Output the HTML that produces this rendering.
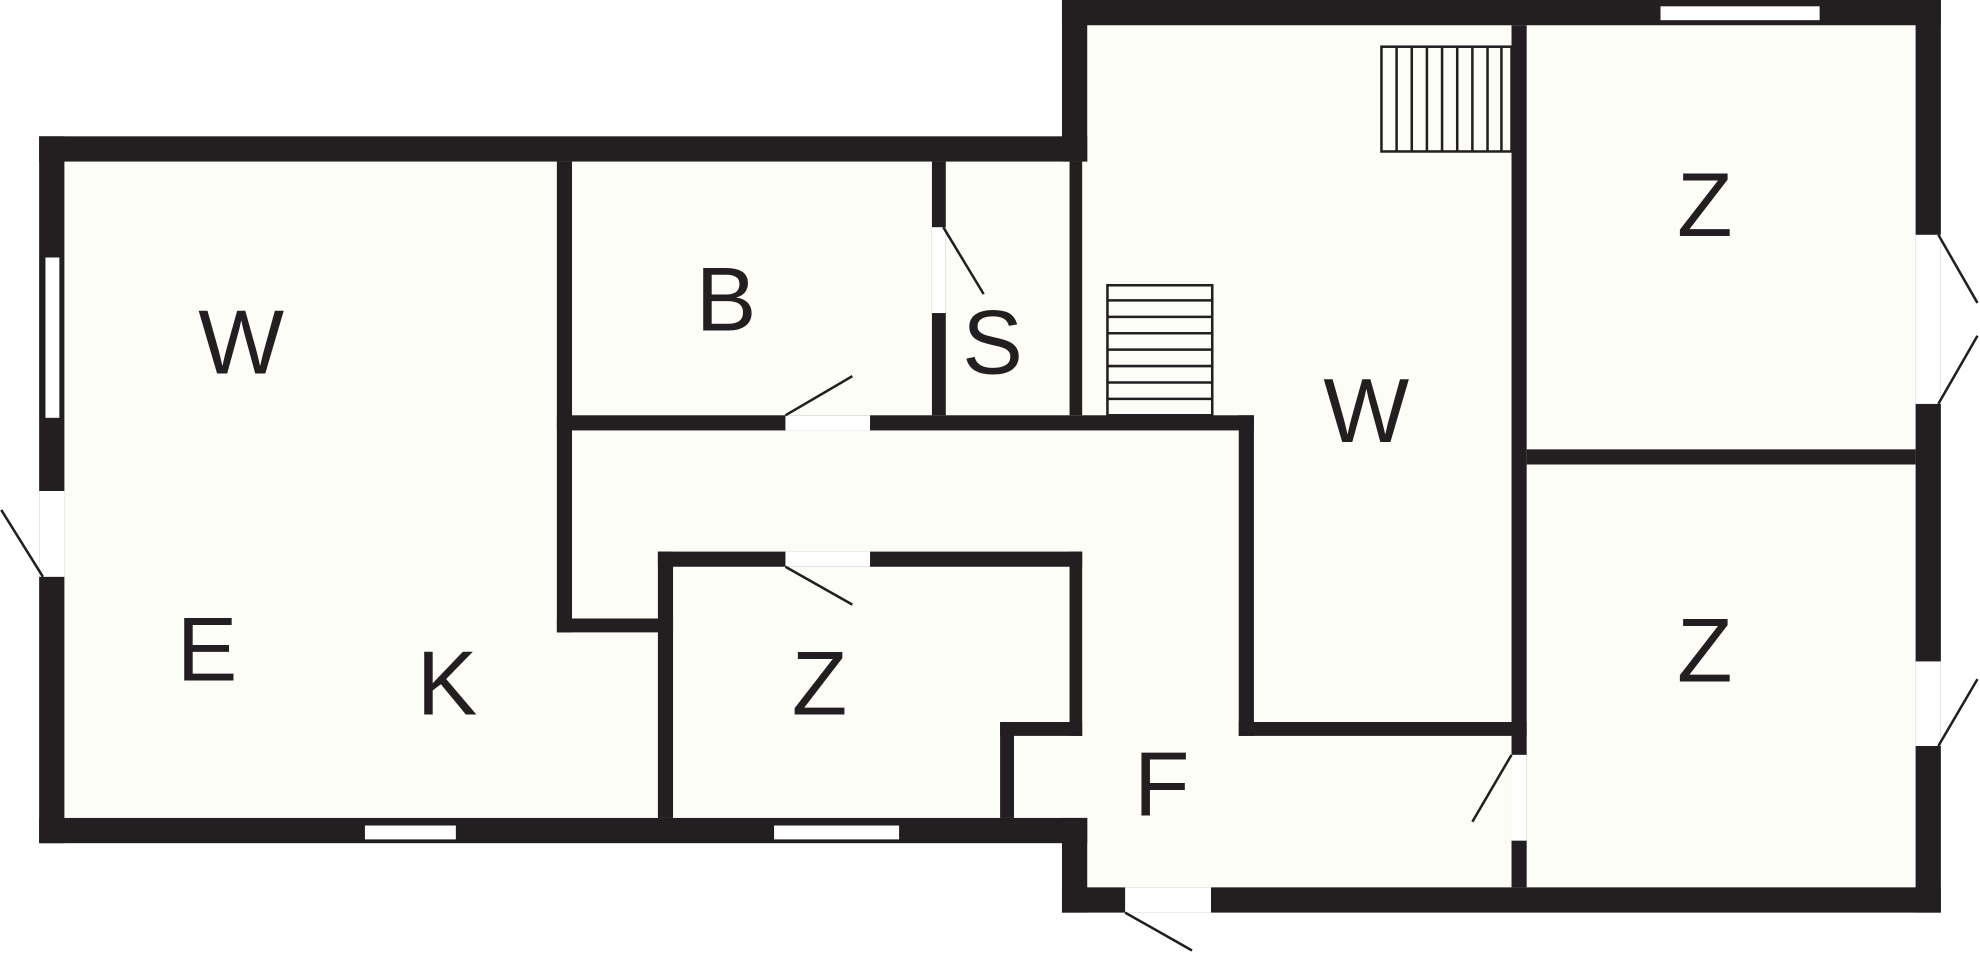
<!DOCTYPE html>
<html><head><meta charset="utf-8"><style>
html,body{margin:0;padding:0;background:#fff;}
svg{display:block;}
text{font-family:"Liberation Sans",sans-serif;font-size:72px;fill:#231f20;text-anchor:middle;}
</style></head><body>
<svg width="1980" height="953" viewBox="0 0 1568 755" preserveAspectRatio="none" xmlns="http://www.w3.org/2000/svg">
<rect width="1568" height="755" fill="#fff"/>
<!-- floor fills -->
<rect x="41" y="118" width="810" height="540" fill="#fdfdf7"/>
<rect x="851" y="10" width="676" height="703" fill="#fdfdf7"/>
<g fill="#231f20">
<!-- outer walls -->
<rect x="31" y="108" width="830" height="20"/>
<rect x="31" y="108" width="20" height="560"/>
<rect x="31" y="648" width="830" height="20"/>
<rect x="841" y="0" width="696" height="20"/>
<rect x="841" y="0" width="20" height="128"/>
<rect x="1517" y="0" width="20" height="723"/>
<rect x="841" y="703" width="696" height="20"/>
<rect x="841" y="648" width="20" height="75"/>
<!-- interior walls -->
<rect x="441" y="128" width="12" height="373"/>
<rect x="441" y="490" width="92" height="11"/>
<rect x="441" y="329" width="552" height="12"/>
<rect x="738" y="128" width="11" height="201"/>
<rect x="847" y="128" width="10" height="201"/>
<rect x="981" y="329" width="12" height="254"/>
<rect x="981" y="572" width="228" height="11"/>
<rect x="1197" y="20" width="12" height="683"/>
<rect x="1209" y="356" width="308" height="12"/>
<rect x="521" y="437" width="336" height="12"/>
<rect x="521" y="437" width="12" height="211"/>
<rect x="847" y="437" width="10" height="146"/>
<rect x="792" y="572" width="65" height="11"/>
<rect x="792" y="572" width="11" height="76"/>
</g>
<!-- openings -->
<g fill="#fff">
<rect x="31" y="389" width="20" height="68"/>
<rect x="1517" y="186" width="20" height="134"/>
<rect x="1517" y="524" width="20" height="67"/>
<rect x="891" y="703" width="68" height="20"/>
<rect x="622" y="329" width="67" height="12"/>
<rect x="738" y="180" width="11" height="68"/>
<rect x="1197" y="598" width="12" height="68"/>
<rect x="622" y="437" width="67" height="12"/>
</g>
<!-- windows -->
<g fill="#fff" stroke="#231f20" stroke-width="1">
<rect x="35.5" y="203.5" width="12" height="128"/>
<rect x="288.5" y="653.5" width="73" height="12"/>
<rect x="612.5" y="653.5" width="100" height="12"/>
<rect x="1314.5" y="4.5" width="127" height="12"/>
</g>
<!-- door swings -->
<g stroke="#231f20" stroke-width="2" fill="none">
<line x1="1" y1="404" x2="34" y2="457"/>
<line x1="1535" y1="186" x2="1566" y2="240"/>
<line x1="1535" y1="320" x2="1566" y2="266"/>
<line x1="1535" y1="591" x2="1566" y2="538"/>
<line x1="891" y1="723" x2="944" y2="753"/>
<line x1="622" y1="329" x2="675" y2="298"/>
<line x1="747" y1="180" x2="779" y2="233"/>
<line x1="1197" y1="598" x2="1166" y2="651"/>
<line x1="622" y1="449" x2="675" y2="479"/>
</g>
<!-- stairs -->
<g stroke="#231f20" stroke-width="2" fill="none">
<rect x="1094" y="37" width="103" height="83"/>
<line x1="1106" y1="37" x2="1106" y2="120"/>
<line x1="1118" y1="37" x2="1118" y2="120"/>
<line x1="1130" y1="37" x2="1130" y2="120"/>
<line x1="1142" y1="37" x2="1142" y2="120"/>
<line x1="1154" y1="37" x2="1154" y2="120"/>
<line x1="1166" y1="37" x2="1166" y2="120"/>
<line x1="1178" y1="37" x2="1178" y2="120"/>
<line x1="1189" y1="37" x2="1189" y2="120"/>
<rect x="877" y="226" width="83" height="103"/>
<line x1="877" y1="238" x2="960" y2="238"/>
<line x1="877" y1="251" x2="960" y2="251"/>
<line x1="877" y1="264" x2="960" y2="264"/>
<line x1="877" y1="277" x2="960" y2="277"/>
<line x1="877" y1="290" x2="960" y2="290"/>
<line x1="877" y1="303" x2="960" y2="303"/>
<line x1="877" y1="316" x2="960" y2="316"/>
</g>
<!-- labels -->
<text x="191" y="296">W</text>
<text x="575" y="262">B</text>
<text x="786" y="296">S</text>
<text x="1082" y="350">W</text>
<text x="1350" y="187">Z</text>
<text x="1350" y="540">Z</text>
<text x="164" y="539">E</text>
<text x="354" y="566">K</text>
<text x="649" y="566">Z</text>
<text x="920" y="646">F</text>
</svg>
</body></html>
